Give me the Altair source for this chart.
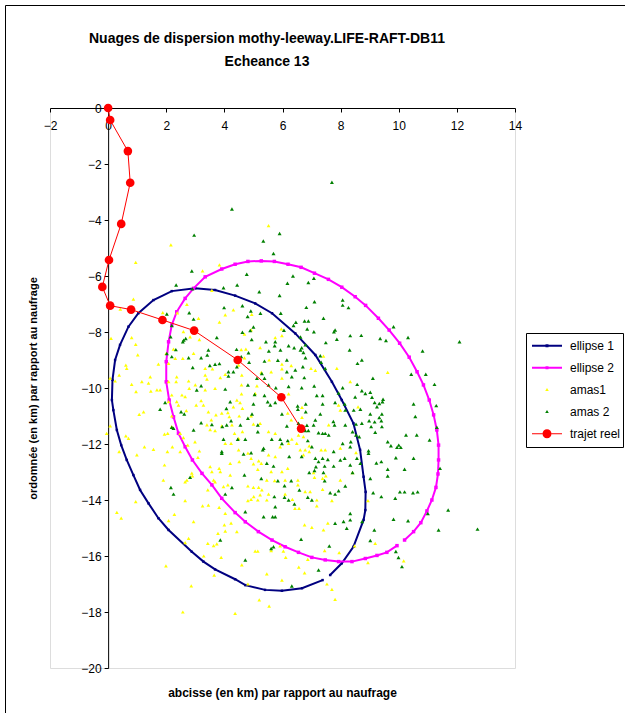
import altair as alt
import pandas as pd

# ---------------- data ----------------
series_names = ["ellipse 1", "ellipse 2", "amas1", "amas 2", "trajet reel"]
series_colors = ["#000080", "#FF00FF", "#FFFF00", "#008000", "#FF0000"]

x_ticks = [-2, 0, 2, 4, 6, 8, 10, 12, 14]
y_ticks = [0, -2, -4, -6, -8, -10, -12, -14, -16, -18, -20]

traj_x = [0, 0.07, 0.68, 0.76, 0.45, 0.03, -0.20, 0.07, 0.79, 1.87, 2.96, 4.46, 5.96, 6.64]
traj_y = [0, -0.43, -1.54, -2.67, -4.14, -5.43, -6.39, -7.06, -7.20, -7.57, -7.95, -9.00, -10.33, -11.45]

ell1_x = [7.38, 6.67, 5.98, 5.40, 4.72, 4.37, 3.68, 3.28, 2.88, 2.08, 1.73, 1.39, 1.10, 0.87, 0.64, 0.45,
          0.30, 0.18, 0.13, 0.15, 0.24, 0.41, 0.70, 1.04, 1.56, 2.19, 2.99, 3.68, 4.37, 5.06, 5.64, 6.44,
          7.13, 7.70, 8.04, 8.44, 8.67, 8.79, 8.86, 8.85, 8.79, 8.44, 8.04, 7.64]
ell1_y = [-16.86, -17.15, -17.24, -17.21, -17.04, -16.83, -16.48, -16.20, -15.85, -15.07, -14.65, -14.12,
          -13.64, -13.11, -12.57, -12.04, -11.50, -10.79, -10.43, -9.71, -9.00, -8.46, -7.81, -7.33, -6.86,
          -6.54, -6.44, -6.50, -6.70, -6.98, -7.33, -8.05, -8.82, -9.78, -10.43, -11.26, -12.21, -13.17,
          -13.71, -14.36, -14.71, -15.67, -16.26, -16.68]

ell2_x = [10.20, 10.51, 10.76, 10.97, 11.14, 11.28, 11.35, 11.37, 11.37, 11.31, 11.20, 11.05, 10.85, 10.63,
          10.36, 10.03, 9.67, 9.30, 8.86, 8.50, 8.04, 7.58, 7.10, 6.64, 6.19, 5.72, 5.27, 4.81, 4.37, 3.91,
          3.34, 2.94, 2.65, 2.36, 2.19, 2.08, 2.00, 2.00, 2.10, 2.25, 2.42, 2.65, 2.90, 3.23, 3.57, 3.91,
          4.37, 4.72, 5.17, 5.64, 6.09, 6.55, 7.01, 7.47, 7.93, 8.39, 8.85, 9.25, 9.59, 9.94]
ell2_y = [-15.43, -15.13, -14.81, -14.39, -14.00, -13.55, -13.07, -12.57, -12.04, -11.50, -10.96, -10.43,
          -9.89, -9.42, -8.90, -8.40, -7.93, -7.51, -7.05, -6.74, -6.40, -6.12, -5.90, -5.69, -5.58, -5.48,
          -5.46, -5.48, -5.58, -5.75, -6.03, -6.44, -6.80, -7.28, -7.75, -8.35, -9.06, -9.78, -10.43,
          -11.03, -11.62, -12.10, -12.57, -13.05, -13.46, -13.94, -14.45, -14.78, -15.13, -15.43, -15.67,
          -15.87, -16.05, -16.14, -16.20, -16.20, -16.09, -15.98, -15.87, -15.63]

amas1_pts = [
    (2.16, -4.89), (0.95, -5.51), (3.83, -5.60), (3.25, -5.82), (3.57, -6.51), (2.71, -7.01), (0.87, -6.83),
    (0.42, -7.18), (1.88, -7.31), (2.38, -7.32), (3.11, -7.51), (4.03, -7.39), (3.83, -7.65), (4.31, -7.21),
    (0.10, -8.23), (0.81, -8.20), (0.95, -8.44), (1.02, -8.82), (2.59, -7.99), (2.82, -8.17), (3.14, -8.27),
    (2.25, -8.61), (2.31, -8.94), (2.57, -8.94), (2.94, -8.76), (2.00, -8.76), (2.08, -9.12), (1.73, -9.15),
    (0.61, -9.18), (0.64, -9.30), (0.38, -9.54), (0.07, -9.65), (0.24, -9.75), (1.16, -9.77), (1.45, -9.60),
    (1.39, -9.83), (1.47, -10.11), (1.68, -10.07), (1.79, -10.07), (0.96, -10.13), (0.81, -9.87), (2.36, -9.60),
    (2.34, -9.77), (2.08, -9.77), (2.77, -9.75), (2.79, -10.01), (3.00, -9.89), (3.34, -9.30), (3.59, -9.32),
    (3.86, -9.63), (4.03, -9.51), (3.34, -9.54), (3.40, -9.68), (3.68, -10.01), (2.54, -10.25), (2.65, -10.31),
    (2.19, -10.25), (3.34, -10.07),
    (5.52, -4.20), (4.94, -7.37), (5.96, -7.89), (4.92, -7.92), (4.69, -8.08), (5.75, -8.20), (5.98, -8.13),
    (5.23, -8.56), (4.74, -8.61), (4.58, -8.63), (4.69, -8.92), (5.54, -9.00), (5.98, -9.15), (6.30, -9.20),
    (5.98, -9.32), (5.61, -9.42), (5.27, -9.44), (6.98, -9.30), (7.13, -9.37), (7.41, -8.86), (7.87, -9.30),
    (8.33, -9.77), (5.98, -9.65), (4.60, -9.54), (4.49, -9.18), (4.59, -9.89), (5.12, -9.92), (4.59, -10.21),
    (5.06, -10.19), (6.21, -10.21), (9.62, -9.44),
    (0.07, -11.35), (-0.05, -11.62), (1.07, -10.94), (1.22, -10.85), (0.61, -11.71), (0.70, -11.80),
    (0.38, -12.27), (0.99, -12.39), (1.25, -12.10), (1.56, -12.19), (2.04, -12.27), (2.21, -12.10),
    (1.94, -12.75), (2.48, -12.27), (1.90, -13.29), (2.65, -13.35), (2.71, -13.29), (0.95, -14.06),
    (0.30, -14.44), (0.45, -14.65), (2.28, -14.51), (2.65, -14.02), (2.08, -14.74), (2.94, -14.77),
    (3.25, -14.21), (3.45, -14.18), (3.82, -14.26), (4.03, -14.48), (4.00, -14.89), (4.23, -14.83),
    (4.03, -15.11), (3.78, -15.19), (3.74, -15.57), (3.63, -15.63), (3.43, -15.55), (2.77, -15.37),
    (2.65, -15.52), (3.29, -16.00), (3.89, -16.05), (3.65, -16.68), (1.99, -16.35), (2.86, -17.07),
    (2.57, -18.00), (2.90, -13.14), (2.88, -13.04), (3.09, -12.48), (3.14, -12.25), (2.99, -11.92),
    (2.74, -12.04), (2.59, -11.77), (2.48, -11.62), (2.05, -11.62), (1.94, -11.65), (2.19, -11.38),
    (2.19, -11.00), (2.36, -10.49), (2.42, -10.61), (2.08, -10.49), (2.69, -10.81), (3.03, -10.61),
    (3.28, -10.61), (3.20, -10.45), (3.45, -10.85), (3.71, -10.96), (3.55, -11.14), (3.40, -11.32),
    (3.51, -11.49), (3.68, -11.52), (3.91, -11.35), (3.91, -10.90), (4.12, -10.88), (4.17, -11.02),
    (4.31, -10.67), (4.26, -11.32), (4.35, -11.62), (4.23, -11.98), (4.03, -11.98), (4.20, -12.69),
    (4.20, -13.11), (3.51, -12.81), (3.57, -12.99), (3.82, -12.87), (3.86, -12.99), (3.63, -13.29),
    (3.68, -13.35), (3.43, -13.64), (3.97, -13.52), (4.12, -13.46),
    (4.54, -10.52), (4.62, -10.73), (4.51, -11.00), (4.92, -11.00), (5.00, -11.29), (5.23, -11.26),
    (4.62, -11.56), (4.49, -11.80), (5.52, -11.56), (5.75, -11.62), (6.18, -10.90), (6.30, -11.14),
    (6.67, -10.69), (6.67, -11.05), (7.59, -11.32), (7.93, -10.61), (7.99, -10.79), (8.60, -10.67),
    (6.55, -11.68), (6.72, -11.74), (6.32, -11.83), (6.21, -11.98), (6.49, -11.98), (6.61, -12.21),
    (6.78, -12.21), (6.92, -12.27), (6.72, -12.39), (6.92, -12.07), (7.33, -12.21), (7.47, -12.21),
    (7.99, -12.15), (8.53, -12.31), (5.52, -12.39), (5.75, -12.45), (5.92, -12.10), (4.49, -12.21),
    (4.81, -12.33), (4.92, -12.51), (5.18, -12.60), (5.27, -12.69), (4.51, -12.63), (5.00, -12.71),
    (5.15, -12.91), (5.98, -12.99), (6.18, -12.87), (5.61, -12.99), (5.46, -13.29), (5.73, -13.31),
    (6.09, -13.29), (6.53, -13.29), (6.53, -13.46), (7.07, -13.02), (7.10, -13.19), (7.38, -13.23),
    (7.49, -13.14), (7.99, -13.29), (8.41, -13.02), (4.81, -13.50), (5.00, -13.55), (5.18, -13.55),
    (5.29, -13.64), (5.23, -13.82), (5.01, -13.88), (4.92, -13.98), (4.81, -14.02), (5.15, -14.00),
    (5.52, -13.79), (5.46, -14.00), (6.09, -13.79), (6.34, -13.98), (6.43, -14.30), (6.57, -14.30),
    (6.78, -13.70), (6.95, -13.70), (7.18, -14.00), (7.18, -14.21), (7.38, -13.62), (7.70, -14.02),
    (6.76, -14.89), (7.01, -14.98), (7.56, -14.83), (7.41, -15.07), (4.43, -15.13), (5.06, -15.83),
    (5.15, -15.83), (5.92, -15.64), (5.61, -15.81), (6.03, -15.83), (6.11, -16.05), (6.87, -16.12),
    (6.56, -16.40), (6.76, -16.60), (7.45, -15.81), (7.95, -15.88), (8.48, -15.64), (4.60, -16.32),
    (5.46, -16.64), (5.98, -16.86), (4.81, -17.00), (7.53, -17.00), (7.70, -17.19), (7.81, -17.55),
    (5.20, -17.57), (5.54, -17.79), (4.37, -18.05), (4.43, -10.43),
    (8.94, -14.02), (9.19, -15.55), (10.17, -16.17), (8.94, -16.24),
]

amas2_pts = [
    (4.26, -3.61), (2.96, -4.54), (2.88, -5.82), (2.34, -6.32), (3.97, -6.42), (3.99, -7.13), (2.79, -7.31),
    (2.94, -7.54), (2.02, -7.36), (2.19, -7.77), (3.74, -8.20), (2.60, -8.29), (2.57, -8.35), (2.67, -8.23),
    (2.15, -8.17), (2.02, -8.77), (2.19, -8.88), (2.33, -8.63), (3.45, -8.64), (3.41, -8.82), (3.20, -8.92),
    (3.68, -9.15), (3.83, -9.13), (3.50, -9.20), (2.91, -9.27), (2.77, -8.92), (4.14, -9.42), (4.14, -9.57),
    (4.31, -9.42), (3.05, -10.07), (3.20, -9.92), (4.03, -10.04), (2.90, -6.46),
    (7.70, -2.65), (5.90, -4.48), (5.34, -4.75), (5.69, -5.20), (4.77, -5.94), (6.36, -6.00), (4.44, -6.32),
    (6.17, -6.26), (6.89, -6.23), (7.08, -6.08), (5.20, -6.56), (5.90, -6.70), (4.62, -7.06), (7.10, -6.92),
    (6.82, -7.12), (8.07, -6.86), (8.07, -7.04), (8.27, -7.13), (4.91, -7.25), (4.80, -7.45), (5.24, -7.33),
    (5.94, -7.33), (7.41, -7.51), (6.46, -7.65), (6.76, -7.61), (6.89, -7.61), (6.38, -7.77), (6.85, -7.89),
    (7.08, -7.99), (5.00, -7.82), (4.62, -8.01), (4.89, -7.95), (7.81, -7.93), (7.77, -7.99), (8.33, -8.13),
    (8.71, -8.12), (4.94, -8.27), (5.43, -8.35), (5.75, -8.35), (6.05, -7.94), (6.62, -8.18), (7.49, -8.38),
    (7.87, -8.26), (4.42, -8.62), (4.83, -8.74), (5.53, -8.68), (5.73, -8.49), (6.21, -8.49), (6.40, -8.56),
    (6.66, -8.56), (6.62, -8.64), (6.79, -8.46), (5.93, -8.64), (6.72, -8.73), (6.79, -8.92), (7.30, -8.85),
    (8.31, -8.64), (4.58, -8.88), (4.85, -9.08), (5.38, -9.04), (5.84, -9.01), (6.15, -9.00), (7.33, -9.08),
    (7.47, -9.30), (8.58, -9.12), (8.73, -9.00), (4.43, -9.24), (6.44, -9.36), (6.70, -9.24), (6.15, -9.42),
    (6.32, -9.60), (6.75, -9.63), (5.12, -9.65), (5.38, -9.65), (5.29, -9.48), (4.81, -9.89), (5.52, -9.89),
    (5.77, -9.99), (6.21, -9.95), (6.66, -9.99), (7.09, -9.93), (8.07, -9.99), (8.57, -9.87), (5.04, -10.23),
    (5.38, -10.27), (7.18, -10.27), (7.38, -10.27), (7.93, -10.18), (8.50, -10.32), (8.73, -10.10),
    (9.82, -7.81), (9.36, -8.23), (9.56, -8.30), (10.32, -8.20), (10.82, -8.68), (12.09, -8.35), (9.11, -9.65),
    (10.43, -9.51), (10.93, -9.51), (11.23, -9.87), (9.02, -10.15), (9.08, -10.33), (8.85, -10.20),
    (9.46, -10.40),
    (1.79, -10.76), (1.96, -10.52), (2.51, -10.85), (2.62, -10.93), (2.19, -11.40), (2.25, -11.44),
    (2.94, -11.50), (3.20, -11.24), (3.57, -11.30), (3.93, -11.38), (4.08, -11.32), (4.23, -11.17),
    (4.07, -10.73), (4.20, -10.49), (3.97, -11.83), (3.91, -12.33), (3.91, -12.27), (2.82, -13.19),
    (2.16, -13.55), (2.25, -13.79), (4.03, -13.79), (4.26, -13.55), (3.86, -15.43),
    (5.00, -10.57), (5.49, -10.49), (5.75, -10.52), (5.58, -10.61), (6.52, -10.64), (6.53, -10.76),
    (6.80, -10.57), (6.80, -10.85), (7.38, -10.57), (7.81, -10.52), (8.14, -10.57), (8.16, -10.79),
    (8.45, -10.79), (8.68, -10.76), (4.81, -11.08), (4.95, -10.93), (4.55, -11.32), (5.15, -11.32),
    (5.98, -10.93), (6.15, -11.36), (6.55, -11.26), (6.84, -11.33), (7.13, -11.14), (7.07, -11.32),
    (7.30, -10.93), (7.75, -11.20), (7.79, -11.32), (8.16, -11.32), (8.53, -11.29), (8.73, -11.26),
    (5.15, -11.56), (5.63, -11.83), (5.92, -11.83), (5.98, -11.98), (6.78, -11.52), (6.89, -11.52),
    (7.24, -11.60), (7.38, -11.62), (7.47, -11.62), (7.59, -11.68), (8.41, -11.56), (8.53, -11.68),
    (4.46, -11.83), (4.72, -11.83), (5.35, -12.15), (5.32, -12.21), (6.18, -11.88), (6.87, -11.88),
    (7.01, -12.10), (7.76, -12.27), (8.07, -11.98), (8.35, -11.92), (8.64, -11.74), (8.33, -12.10),
    (4.92, -12.31), (4.66, -12.36), (6.23, -12.45), (6.66, -12.45), (7.13, -12.51), (7.38, -12.51),
    (7.24, -12.63), (7.56, -12.55), (7.15, -12.81), (7.45, -12.79), (6.92, -13.02), (7.10, -12.95),
    (7.41, -13.02), (7.76, -12.79), (7.99, -12.57), (8.14, -12.51), (8.56, -12.51), (8.33, -12.75),
    (8.68, -12.69), (5.46, -12.69), (5.69, -12.79), (4.69, -13.11), (5.27, -13.23), (5.84, -13.31),
    (6.07, -13.49), (6.30, -13.31), (6.58, -13.64), (6.87, -13.90), (7.45, -13.31), (7.64, -13.74),
    (7.93, -13.67), (8.16, -13.50), (8.41, -13.02), (5.72, -13.88), (6.07, -13.90), (6.21, -14.00),
    (7.01, -14.00), (7.81, -13.79), (6.41, -14.14), (5.75, -14.24), (5.75, -14.60), (5.66, -14.60),
    (5.35, -14.60), (4.72, -14.42), (7.81, -14.83), (8.10, -14.77), (8.33, -14.71), (8.33, -14.48),
    (8.21, -15.01), (6.64, -15.40), (5.61, -15.73), (5.69, -15.67), (7.61, -15.64), (7.24, -16.50),
    (4.72, -16.14), (6.32, -17.07), (8.74, -14.77),
    (9.17, -10.52), (9.33, -10.55), (9.44, -10.49), (9.25, -10.67), (10.51, -10.57), (11.29, -10.63),
    (9.02, -10.93), (9.42, -10.93), (9.33, -11.05), (8.98, -11.17), (9.17, -11.21), (9.40, -11.17),
    (10.57, -11.02), (9.05, -11.38), (9.42, -11.38), (9.19, -11.58), (10.25, -11.68), (10.62, -11.68),
    (11.31, -11.40), (9.62, -11.92), (9.73, -12.06), (9.94, -12.12), (10.00, -12.04), (10.07, -12.12),
    (11.06, -11.86), (8.96, -12.24), (8.96, -12.33), (9.90, -12.49), (10.51, -12.51), (9.40, -12.63),
    (9.23, -12.68), (10.20, -12.90), (9.62, -12.90), (9.62, -13.14), (11.42, -12.87), (9.02, -13.23),
    (9.12, -13.74), (10.04, -13.71), (10.20, -13.71), (10.49, -13.74), (10.65, -13.71), (9.88, -13.94),
    (9.40, -13.88), (11.70, -14.36), (11.00, -14.48), (9.82, -14.69), (10.32, -14.74), (9.16, -15.07),
    (11.37, -15.07), (12.71, -15.04), (9.02, -15.45), (9.90, -15.84), (9.99, -16.05), (10.11, -16.38),
]

# legend key drawings (custom symbol paths in the -1..1 box)
legend_paths = [
    "M-1,-0.067H-0.1V0.067H-1Z M0.1,-0.067H1V0.067H0.1Z M-0.1,-0.1H0.1V0.1H-0.1Z",
    "M-1,-0.067H-0.1V0.067H-1Z M0.1,-0.067H1V0.067H0.1Z M-0.1,-0.1H0.1V0.1H-0.1Z",
    "M0,-0.12L0.12,0.09H-0.12Z",
    "M0,-0.12L0.12,0.09H-0.12Z",
    "M-1,-0.035H-0.3V0.035H-1Z M0.3,-0.035H1V0.035H0.3Z M-0.3,0A0.3,0.3 0 1,1 0.3,0A0.3,0.3 0 1,1 -0.3,0Z",
]

title_lines = ["Nuages de dispersion mothy-leeway.LIFE-RAFT-DB11", "Echeance 13"]
x_title = "abcisse (en km) par rapport au naufrage"
y_title = "ordomnée (en km) par rapport au naufrage"

# ---------------- tables ----------------
traj = pd.DataFrame({"x": traj_x, "y": traj_y, "i": range(len(traj_x))})
ell1 = pd.DataFrame({"x": ell1_x, "y": ell1_y, "i": range(len(ell1_x))})
ell2 = pd.DataFrame({"x": ell2_x, "y": ell2_y, "i": range(len(ell2_x))})
amas1 = pd.DataFrame(amas1_pts, columns=["x", "y"])
amas2 = pd.DataFrame(amas2_pts, columns=["x", "y"])
one = pd.DataFrame({"k": [0]})

FONT = "Liberation Sans"
W, H = 465, 560

xs = alt.Scale(domain=[-2, 14], nice=False, zero=False)
ys = alt.Scale(domain=[-20, 0], nice=False, zero=False)

x_axis = alt.Axis(
    orient="bottom", offset=-H, values=x_ticks, tickSize=4, labelPadding=8,
    domainColor="black", tickColor="black", labelColor="black", labelFont=FONT, labelFontSize=12,
    labelFlush=False, grid=False, title=x_title, titleFont=FONT, titleFontSize=12,
    titleFontWeight="bold", titleColor="black", titleX=232, titleY=588, titleBaseline="alphabetic",
)
y_axis = alt.Axis(
    orient="left", offset=-58.125, values=y_ticks, tickSize=4, labelPadding=3,
    domainColor="black", tickColor="black", labelColor="black", labelFont=FONT, labelFontSize=12,
    labelFlush=False, grid=False, title=y_title, titleFont=FONT, titleFontSize=11,
    titleFontWeight="bold", titleColor="black", titleX=-74.5, titleY=280, titleAngle=270,
    titleBaseline="middle", titleAlign="center",
)

X = alt.X("x:Q", scale=xs, axis=x_axis)
Y = alt.Y("y:Q", scale=ys, axis=y_axis)

# outer chart frame (left and top edges visible, the rest runs off the picture)
frame = alt.Chart(one).mark_rect(
    fillOpacity=0, stroke="black", strokeWidth=1
).encode(x=alt.value(-44.5), x2=alt.value(800), y=alt.value(-102.5), y2=alt.value(800))

# chart title as a two-line text block
title = alt.Chart(one).mark_text(
    text=title_lines, font=FONT, fontSize=14, fontWeight="bold", color="black",
    align="center", baseline="top", lineHeight=23,
).encode(x=alt.value(217), y=alt.value(-76.5))

e1_line = alt.Chart(ell1).mark_line(color="#000080", strokeWidth=2).encode(x=X, y=Y, order="i:Q")
e1_pts = alt.Chart(ell1).mark_point(shape="square", filled=True, size=6, color="#000080", opacity=1).encode(x=X, y=Y)
e2_line = alt.Chart(ell2).mark_line(color="#FF00FF", strokeWidth=2).encode(x=X, y=Y, order="i:Q")
e2_pts = alt.Chart(ell2).mark_point(shape="square", filled=True, size=12, color="#FF00FF", opacity=1).encode(x=X, y=Y)

a1 = alt.Chart(amas1).mark_point(shape="triangle-up", filled=True, size=14, color="#FFFF00", opacity=1).encode(x=X, y=Y)
a2 = alt.Chart(amas2).mark_point(shape="triangle-up", filled=True, size=16, color="#008000", opacity=1).encode(x=X, y=Y)

t_line = alt.Chart(traj).mark_line(color="#FF0000", strokeWidth=1).encode(x=X, y=Y, order="i:Q")
t_pts = alt.Chart(traj).mark_point(shape="circle", filled=True, size=75, color="#FF0000", opacity=1).encode(x=X, y=Y)

legend = alt.Legend(
    orient="none", legendX=476, legendY=225, direction="vertical", padding=2,
    strokeColor="black", fillColor="white", symbolSize=900, symbolStrokeWidth=0,
    clipHeight=21.5, rowPadding=0, labelFont=FONT, labelFontSize=12, labelColor="black",
    labelOffset=8, symbolOffset=4,
)
legend_layer = alt.Chart(pd.DataFrame({"s": series_names})).transform_filter("false").mark_point(
    filled=True, opacity=1
).encode(
    color=alt.Color("s:N", scale=alt.Scale(domain=series_names, range=series_colors), legend=legend, title=None),
    shape=alt.Shape("s:N", scale=alt.Scale(domain=series_names, range=legend_paths), legend=legend, title=None),
)

chart = alt.layer(
    frame, title, e1_line, e1_pts, e2_line, e2_pts, a1, a2, t_line, t_pts, legend_layer
).properties(
    width=W, height=H,
    autosize=alt.AutoSizeParams(type="none"),
    padding={"left": 50, "top": 108, "right": 110, "bottom": 45},
).configure_view(
    fill="#CCFFFF", stroke="#808080", strokeWidth=1
).configure(background="white")

chart.save("out.html", embed_options={"renderer": "svg", "actions": False})
